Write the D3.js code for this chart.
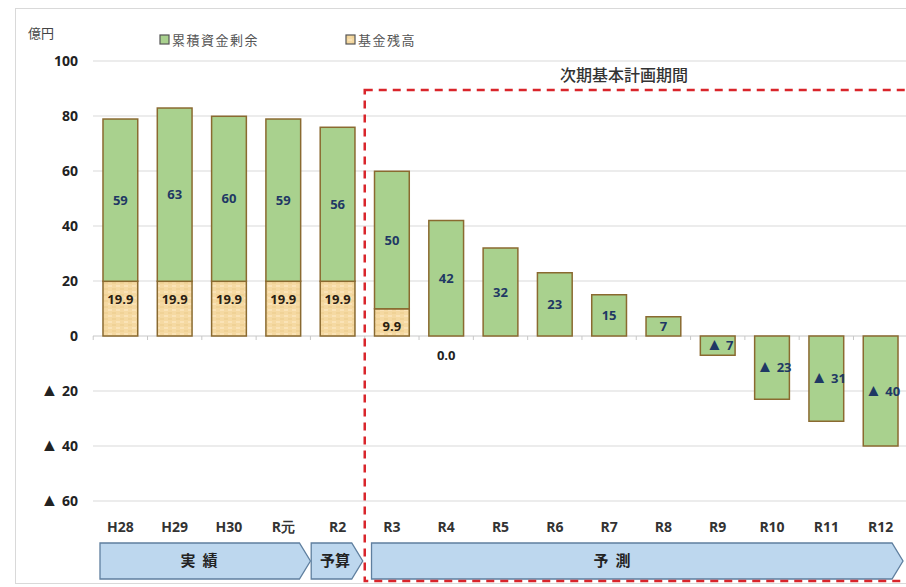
<!DOCTYPE html>
<html><head><meta charset="utf-8">
<script src="https://cdn.jsdelivr.net/npm/d3@7"></script>
<style>
html,body{margin:0;padding:0;background:#fff;}
svg{display:block;}
</style></head>
<body>
<svg id="chart" width="906" height="587"></svg>
<script>
const categories = ["H28","H29","H30","R元","R2","R3","R4","R5","R6","R7","R8","R9","R10","R11","R12"];
const fundBalance = [19.9,19.9,19.9,19.9,19.9,9.9,0.0,null,null,null,null,null,null,null,null];
const cumulativeSurplus = [59,63,60,59,56,50,42,32,23,15,7,-7,-23,-31,-40];
const yTicks = [100,80,60,40,20,0,-20,-40,-60];
const seriesNames = ["累積資金剰余","基金残高"];
const unitLabel = "億円";
const periodTitle = "次期基本計画期間";
const phases = [
  {label:"実 績", first:"H28", last:"R元"},
  {label:"予算", first:"R2", last:"R2"},
  {label:"予 測", first:"R3", last:"R12"}
];

const svg = d3.select("#chart");
const W = 906, H = 587;
const green = "#a9d18e", tan = "#f5d9a2", barStroke = "#8a6a30", navy = "#1f3864";
const numFont = "'Open Sans','Noto Sans',sans-serif";
const jpFont = "'Noto Sans CJK JP','Noto Sans',sans-serif";

const x = d3.scaleBand().domain(categories).range([93, 908]).paddingInner(0.36).paddingOuter(0.184);
const y = d3.scaleLinear().domain([-60, 100]).range([501, 61]);

// pattern for fund
const defs = svg.append("defs");
const pat = defs.append("pattern").attr("id","tanpat").attr("patternUnits","userSpaceOnUse").attr("width",8).attr("height",6);
pat.append("rect").attr("width",8).attr("height",6).attr("fill",tan);
pat.append("rect").attr("x",0).attr("y",0).attr("width",4).attr("height",2).attr("fill","#efcf92").attr("opacity",0.7);
pat.append("rect").attr("x",4).attr("y",3).attr("width",4).attr("height",2).attr("fill","#fbe6bd").attr("opacity",0.8);

// frame
svg.append("rect").attr("x",15.5).attr("y",8.5).attr("width",W).attr("height",575).attr("fill","none").attr("stroke","#d9d9d9");

// gridlines
svg.append("g").selectAll("line").data(yTicks).join("line")
  .attr("x1",93).attr("x2",908).attr("y1",d=>y(d)).attr("y2",d=>y(d))
  .attr("stroke",d=>d===0?"#c8c8c8":"#d9d9d9").attr("stroke-width",1);

// zero axis ticks at band boundaries
const half = x.step()*x.paddingInner()/2;
const bounds = categories.map(c=>x(c)-half).concat([x(categories[categories.length-1])+x.bandwidth()+half]);
svg.append("g").selectAll("line").data(bounds).join("line")
  .attr("x1",d=>d).attr("x2",d=>d).attr("y1",y(0)).attr("y2",y(0)+4)
  .attr("stroke","#c8c8c8");

function triText(sel, v, triSize){
  if (v < 0) {
    sel.append("tspan").attr("font-size",triSize).text("▲");
    sel.append("tspan").text(" "+Math.abs(v));
  } else sel.text(v);
}

// y tick labels
svg.append("g").selectAll("text").data(yTicks).join("text")
  .attr("x",78).attr("y",d=>y(d)).attr("dy","0.36em").attr("text-anchor","end")
  .attr("font-family",numFont).attr("font-weight","bold").attr("font-size",14).attr("fill","#222")
  .each(function(d){ triText(d3.select(this), d, 18); });

// unit
svg.append("text").attr("x",28).attr("y",38).attr("font-family",jpFont).attr("font-size",13).attr("fill","#444").text(unitLabel);

// legend
const leg = [{x:160,fill:green},{x:346,fill:"url(#tanpat)"}];
leg.forEach((l,i)=>{
  svg.append("rect").attr("x",l.x).attr("y",35).attr("width",9).attr("height",9).attr("fill",l.fill).attr("stroke","#555").attr("stroke-width",1.2);
  svg.append("text").attr("x",l.x+12).attr("y",44.5).attr("font-family",jpFont).attr("font-size",13).attr("fill","#555").attr("letter-spacing",1.5).text(seriesNames[i]);
});

// bars
const data = categories.map((c,i)=>({c, fund:fundBalance[i], surplus:cumulativeSurplus[i]}));
const g = svg.append("g");
data.forEach(d=>{
  const base = d.fund ? d.fund : 0;
  const bx = x(d.c), bw = x.bandwidth();
  if (d.fund) {
    g.append("rect").attr("x",bx).attr("width",bw).attr("y",y(d.fund)).attr("height",y(0)-y(d.fund))
      .attr("fill","url(#tanpat)").attr("stroke",barStroke).attr("stroke-width",1.5);
  }
  const top = d.surplus>=0 ? base + d.surplus : 0;
  const bot = d.surplus>=0 ? base : d.surplus;
  g.append("rect").attr("x",bx).attr("width",bw).attr("y",y(top)).attr("height",y(bot)-y(top))
    .attr("fill",green).attr("stroke",barStroke).attr("stroke-width",1.5);
});

// labels
data.forEach(d=>{
  const base = d.fund ? d.fund : 0;
  const cx = x(d.c)+x.bandwidth()/2;
  const top = d.surplus>=0 ? base + d.surplus : 0;
  const bot = d.surplus>=0 ? base : d.surplus;
  const my = (y(top)+y(bot))/2;
  const t = g.append("text").attr("x",cx + (d.surplus<0?2:0)).attr("y",my).attr("dy","0.36em").attr("text-anchor","middle")
    .attr("font-family",numFont).attr("font-weight","bold").attr("font-size",13).attr("fill",navy);
  triText(t, d.surplus, 17);
  if (d.fund !== null) {
    if (d.fund > 0) {
      g.append("text").attr("x",cx).attr("y",y(d.fund)+18).attr("dy","0.36em").attr("text-anchor","middle")
        .attr("font-family",numFont).attr("font-weight","bold").attr("font-size",13).attr("fill","#2a2010")
        .text(d.fund.toFixed(1));
    } else {
      g.append("text").attr("x",cx).attr("y",y(0)+19).attr("dy","0.36em").attr("text-anchor","middle")
        .attr("font-family",numFont).attr("font-weight","bold").attr("font-size",13).attr("fill","#222")
        .text(d.fund.toFixed(1));
    }
  }
});

// category labels
svg.append("g").selectAll("text").data(categories).join("text")
  .attr("x",d=>x(d)+x.bandwidth()/2).attr("y",527).attr("dy","0.36em").attr("text-anchor","middle")
  .attr("font-family",numFont).attr("font-weight","bold").attr("font-size",14).attr("fill","#333")
  .text(d=>d);

// phase arrows
const phaseGeo = [
  {x0: x("H28")-3, x1: x("R元")+x.bandwidth()+half},
  {x0: x("R2")-9, x1: x("R2")+x.bandwidth()+half-2},
  {x0: x("R3")-3, x1: x("R12")+x.bandwidth()+5}
];
const textX = [199, 335, 612];
const ay0 = 543, ay1 = 579, tipW = 11;
phases.forEach((p,i)=>{
  const {x0,x1} = phaseGeo[i];
  const pts = [[x0,ay0],[x1-tipW,ay0],[x1,(ay0+ay1)/2],[x1-tipW,ay1],[x0,ay1]];
  svg.append("path").attr("d",d3.line()(pts)+"Z").attr("fill","#bdd7ee").attr("stroke","#5f7f9f").attr("stroke-width",1.3);
  svg.append("text").attr("x",textX[i]).attr("y",(ay0+ay1)/2).attr("dy","0.36em").attr("text-anchor","middle")
    .attr("font-family",jpFont).attr("font-weight","bold").attr("font-size",15).attr("fill","#222")
    .attr("xml:space","preserve").attr("style","white-space:pre").text(p.label.replace(" ", i===1?"":"  "));
});

// dashed period box
const bx0 = x("R3") - half;
svg.append("rect").attr("x",bx0).attr("y",90).attr("width",912-bx0).attr("height",491)
  .attr("fill","none").attr("stroke","#d9252b").attr("stroke-width",2.5).attr("stroke-dasharray","8,6");
svg.append("text").attr("x",624).attr("y",75).attr("dy","0.36em").attr("text-anchor","middle")
  .attr("font-family",jpFont).attr("font-size",16).attr("font-weight","500").attr("fill","#333").text(periodTitle);
</script>
</body></html>
